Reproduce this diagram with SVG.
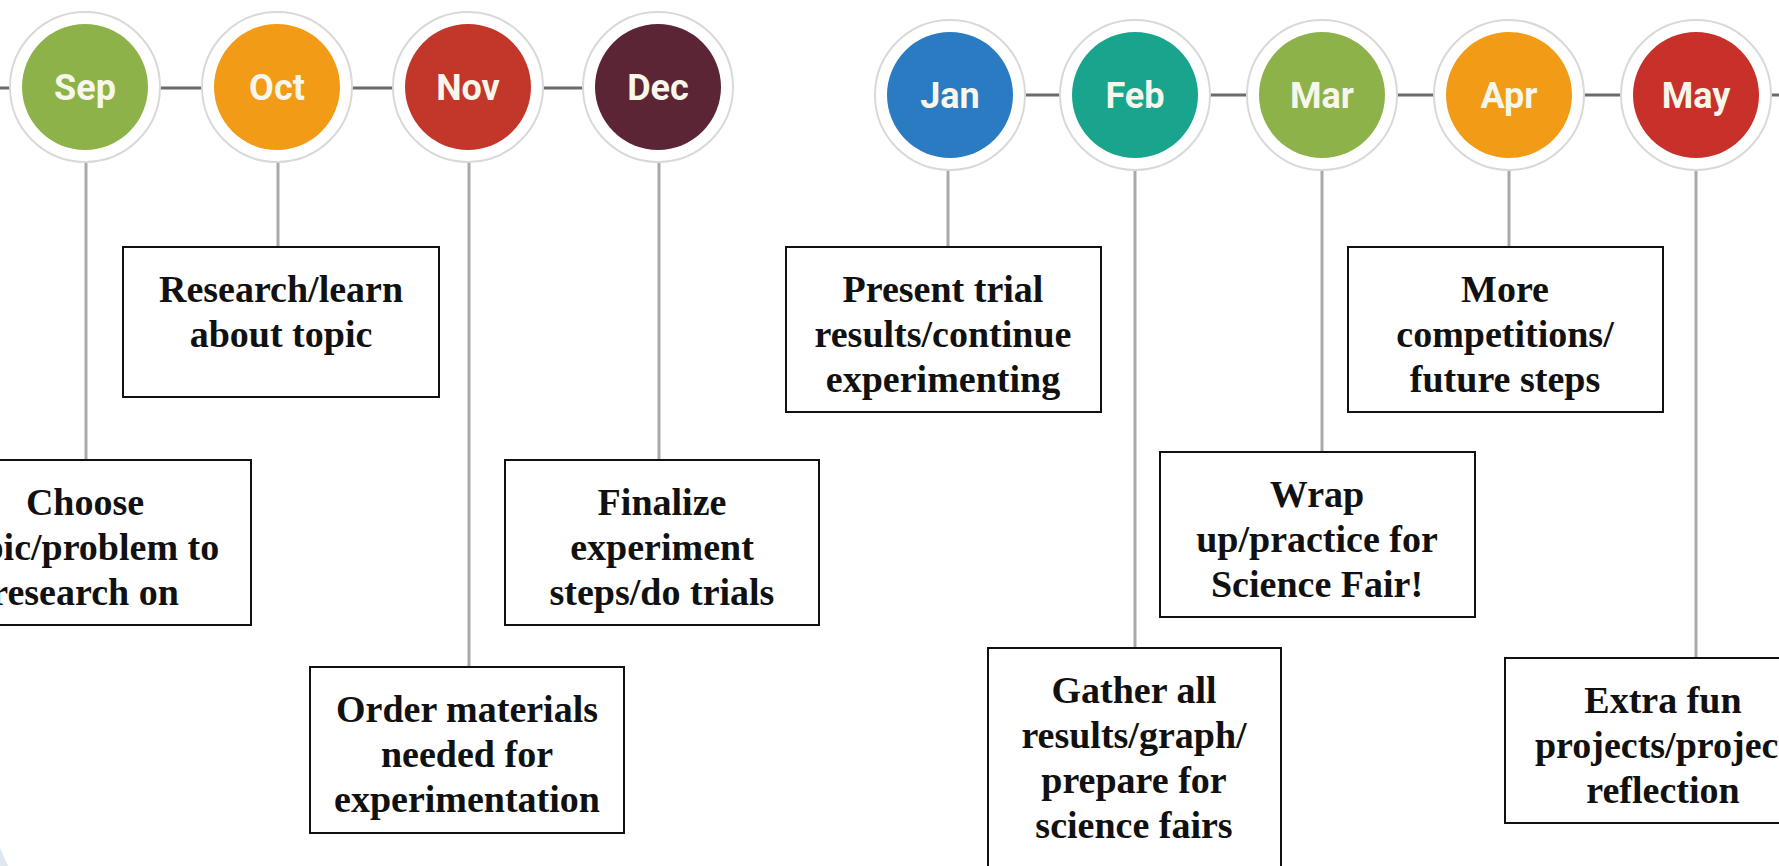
<svg xmlns="http://www.w3.org/2000/svg" width="1779" height="866" viewBox="0 0 1779 866">
<style>
.ring{fill:#ffffff;stroke:#d9d9d9;stroke-width:2}
.mon{font-family:Roboto,"Liberation Sans",sans-serif;font-weight:bold;font-size:36px;fill:#f6f6ea;text-anchor:middle}
.box{fill:#ffffff;stroke:#111111;stroke-width:2}
.txt{font-family:"Liberation Serif",serif;font-weight:bold;font-size:38px;fill:#111111;text-anchor:middle}
.link{stroke:#6b6b6b;stroke-width:3}
.drop{stroke:#a9a9a9;stroke-width:3}
</style>
<rect x="0" y="0" width="1779" height="866" fill="#ffffff"/>
<path d="M0 848 L8 866 L0 866 Z" fill="#dfe7ef"/>
<g id="connectors">
<line class="link" x1="0" y1="88" x2="11" y2="88"/>
<line class="link" x1="160" y1="88" x2="202" y2="88"/>
<line class="link" x1="352" y1="88" x2="393" y2="88"/>
<line class="link" x1="543" y1="88" x2="583" y2="88"/>
<line class="link" x1="1025" y1="95" x2="1060" y2="95"/>
<line class="link" x1="1210" y1="95" x2="1247" y2="95"/>
<line class="link" x1="1397" y1="95" x2="1434" y2="95"/>
<line class="link" x1="1584" y1="95" x2="1621" y2="95"/>
<line class="link" x1="1771" y1="95" x2="1779" y2="95"/>
<line class="drop" x1="86" y1="162" x2="86" y2="460"/>
<line class="drop" x1="278" y1="162" x2="278" y2="247"/>
<line class="drop" x1="469" y1="162" x2="469" y2="667"/>
<line class="drop" x1="659" y1="162" x2="659" y2="460"/>
<line class="drop" x1="948" y1="170" x2="948" y2="247"/>
<line class="drop" x1="1135" y1="170" x2="1135" y2="648"/>
<line class="drop" x1="1322" y1="170" x2="1322" y2="452"/>
<line class="drop" x1="1509" y1="170" x2="1509" y2="247"/>
<line class="drop" x1="1696" y1="170" x2="1696" y2="658"/>
</g>
<g id="sep"><circle class="ring" cx="85" cy="87" r="75"/><circle cx="85" cy="87" r="63" fill="#8eb24a"/><text class="mon" x="85" y="100">Sep</text></g>
<g id="oct"><circle class="ring" cx="277" cy="87" r="75"/><circle cx="277" cy="87" r="63" fill="#f29b16"/><text class="mon" x="277" y="100">Oct</text></g>
<g id="nov"><circle class="ring" cx="468" cy="87" r="75"/><circle cx="468" cy="87" r="63" fill="#c2372a"/><text class="mon" x="468" y="100">Nov</text></g>
<g id="dec"><circle class="ring" cx="658" cy="87" r="75"/><circle cx="658" cy="87" r="63" fill="#5c2536"/><text class="mon" x="658" y="100">Dec</text></g>
<g id="jan"><circle class="ring" cx="950" cy="95" r="75"/><circle cx="950" cy="95" r="63" fill="#2a7bc2"/><text class="mon" x="950" y="108">Jan</text></g>
<g id="feb"><circle class="ring" cx="1135" cy="95" r="75"/><circle cx="1135" cy="95" r="63" fill="#19a48e"/><text class="mon" x="1135" y="108">Feb</text></g>
<g id="mar"><circle class="ring" cx="1322" cy="95" r="75"/><circle cx="1322" cy="95" r="63" fill="#8eb24a"/><text class="mon" x="1322" y="108">Mar</text></g>
<g id="apr"><circle class="ring" cx="1509" cy="95" r="75"/><circle cx="1509" cy="95" r="63" fill="#f29b16"/><text class="mon" x="1509" y="108">Apr</text></g>
<g id="may"><circle class="ring" cx="1696" cy="95" r="75"/><circle cx="1696" cy="95" r="63" fill="#c8302a"/><text class="mon" x="1696" y="108">May</text></g>
<g id="box-choose"><rect class="box" x="-81" y="460" width="332" height="165"/><text class="txt" x="85" y="515">Choose</text><text class="txt" x="85" y="560">topic/problem to</text><text class="txt" x="85" y="605">research on</text></g>
<g id="box-research"><rect class="box" x="123" y="247" width="316" height="150"/><text class="txt" x="281" y="302">Research/learn</text><text class="txt" x="281" y="347">about topic</text></g>
<g id="box-order"><rect class="box" x="310" y="667" width="314" height="166"/><text class="txt" x="467" y="722">Order materials</text><text class="txt" x="467" y="767">needed for</text><text class="txt" x="467" y="812">experimentation</text></g>
<g id="box-finalize"><rect class="box" x="505" y="460" width="314" height="165"/><text class="txt" x="662" y="515">Finalize</text><text class="txt" x="662" y="560">experiment</text><text class="txt" x="662" y="605">steps/do trials</text></g>
<g id="box-present"><rect class="box" x="786" y="247" width="315" height="165"/><text class="txt" x="943" y="302">Present trial</text><text class="txt" x="943" y="347">results/continue</text><text class="txt" x="943" y="392">experimenting</text></g>
<g id="box-gather"><rect class="box" x="988" y="648" width="293" height="230"/><text class="txt" x="1134" y="703">Gather all</text><text class="txt" x="1134" y="748">results/graph/</text><text class="txt" x="1134" y="793">prepare for</text><text class="txt" x="1134" y="838">science fairs</text></g>
<g id="box-wrap"><rect class="box" x="1160" y="452" width="315" height="165"/><text class="txt" x="1317" y="507">Wrap</text><text class="txt" x="1317" y="552">up/practice for</text><text class="txt" x="1317" y="597">Science Fair!</text></g>
<g id="box-more"><rect class="box" x="1348" y="247" width="315" height="165"/><text class="txt" x="1505" y="302">More</text><text class="txt" x="1505" y="347">competitions/</text><text class="txt" x="1505" y="392">future steps</text></g>
<g id="box-extra"><rect class="box" x="1505" y="658" width="316" height="165"/><text class="txt" x="1663" y="713">Extra fun</text><text class="txt" x="1663" y="758">projects/project</text><text class="txt" x="1663" y="803">reflection</text></g>
</svg>
